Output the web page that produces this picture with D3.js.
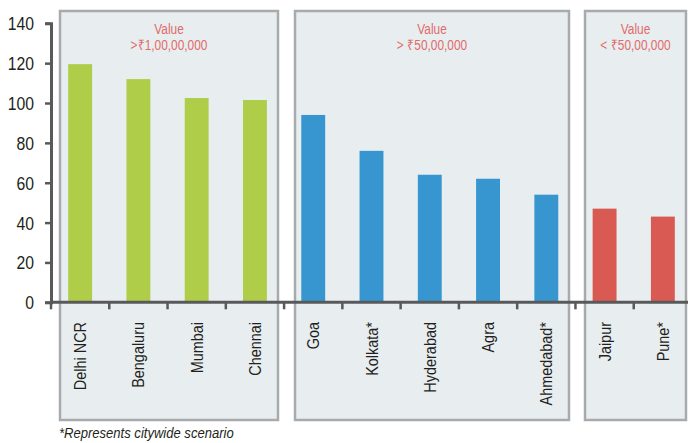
<!DOCTYPE html>
<html>
<head>
<meta charset="utf-8">
<script src="https://cdn.jsdelivr.net/npm/d3@7"></script>
<style>
  html, body { margin: 0; padding: 0; background: #fff; }
  svg { display: block; }
  text { font-family: "Liberation Sans", Arial, sans-serif; }
</style>
</head>
<body>
<svg id="chart" width="688" height="443"></svg>
<script>
// City values, grouped into three price bands
const cities = ["Delhi NCR", "Bengaluru", "Mumbai", "Chennai", "Goa", "Kolkata*", "Hyderabad", "Agra", "Ahmedabad*", "Jaipur", "Pune*"];
const values = [119.5, 112, 102.5, 101.5, 94, 76, 64, 62, 54, 47, 43];
const groupOf = [0, 0, 0, 0, 1, 1, 1, 1, 1, 2, 2];
const groupColors = ["#afcd48", "#3796cf", "#d95a52"];
const groupTitles = [["Value", ">₹1,00,00,000"], ["Value", "> ₹50,00,000"], ["Value", "< ₹50,00,000"]];
const yTicks = [0, 20, 40, 60, 80, 100, 120, 140];
const footnote = "*Represents citywide scenario";

const svg = d3.select("#chart");
const x0 = 51, yBase = 302.3, yTop = 23.3;
const narrow = 0.82; // horizontal squeeze for a condensed look

const x = d3.scaleBand().domain(cities).range([x0, 692]).paddingInner(0.59).paddingOuter(0.295);
const y = d3.scaleLinear().domain([0, 140]).range([yBase, yTop]);

// Group panels
const panels = [
  { x1: 60, x2: 278 },
  { x1: 295, x2: 569 },
  { x1: 585, x2: 686 }
];
svg.selectAll("rect.panel").data(panels).join("rect")
  .attr("class", "panel")
  .attr("x", d => d.x1).attr("y", 11)
  .attr("width", d => d.x2 - d.x1).attr("height", 420 - 11)
  .attr("fill", "#e8edf0").attr("stroke", "#a9aaad").attr("stroke-width", 2.5);

// Panel titles
panels.forEach((p, i) => {
  const cx = (p.x1 + p.x2) / 2;
  groupTitles[i].forEach((line, j) => {
    svg.append("text")
      .attr("transform", `translate(${cx},${34 + j * 16}) scale(${narrow},1)`)
      .attr("text-anchor", "middle").attr("fill", "#e06b68").attr("font-size", 14.5)
      .text(line);
  });
});

// Bars
svg.selectAll("rect.bar").data(cities).join("rect")
  .attr("class", "bar")
  .attr("x", d => x(d)).attr("width", x.bandwidth())
  .attr("y", (d, i) => y(values[i]))
  .attr("height", (d, i) => yBase - y(values[i]))
  .attr("fill", (d, i) => groupColors[groupOf[i]]);

// Y axis
const yAxis = svg.append("g").attr("transform", `translate(${x0},0)`)
  .call(d3.axisLeft(y).tickValues(yTicks).tickSize(6).tickPadding(0));
yAxis.select(".domain").attr("stroke", "#58595b").attr("stroke-width", 3);
yAxis.selectAll(".tick line").attr("stroke", "#58595b").attr("stroke-width", 2.5);
yAxis.selectAll(".tick text")
  .attr("x", null).attr("dy", null)
  .attr("transform", `translate(-17,6.5) scale(${0.83},1)`)
  .attr("font-size", 19).attr("fill", "#231f20")
  .attr("font-family", "'Liberation Sans', Arial, sans-serif");

// X axis with ticks between bands
const step = x.step();
const xTickPos = d3.range(cities.length).map(i => x0 + i * step);
const xAxis = svg.append("g");
xAxis.append("line").attr("x1", x0 - 1).attr("x2", 688)
  .attr("y1", yBase).attr("y2", yBase)
  .attr("stroke", "#58595b").attr("stroke-width", 3);
xAxis.selectAll("line.tick").data(xTickPos).join("line")
  .attr("class", "tick")
  .attr("x1", d => d).attr("x2", d => d)
  .attr("y1", yBase).attr("y2", yBase + 7)
  .attr("stroke", "#58595b").attr("stroke-width", 2.5);

// Category labels, rotated
svg.selectAll("text.cat").data(cities).join("text")
  .attr("class", "cat")
  .attr("transform", d => `translate(${x(d) + x.bandwidth() / 2 + 6},322) rotate(-90) scale(0.85,1)`)
  .attr("text-anchor", "end")
  .attr("font-size", 17).attr("fill", "#231f20")
  .text(d => d);

// Footnote
svg.append("text").attr("transform", "translate(59,438) scale(0.9,1)")
  .attr("font-size", 14.5).attr("font-style", "italic").attr("fill", "#231f20")
  .text(footnote);
</script>
</body>
</html>
